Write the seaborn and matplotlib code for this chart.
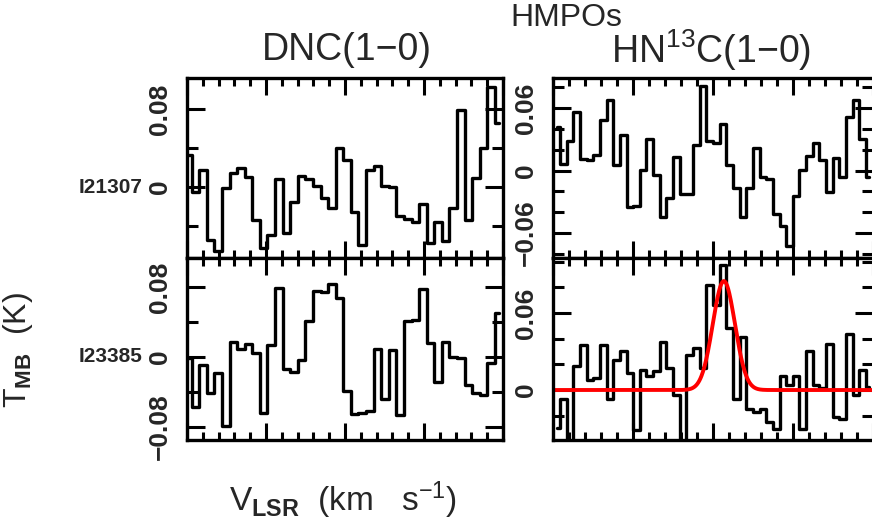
import numpy as np
import pandas as pd
import matplotlib
matplotlib.use("Agg")
import matplotlib.pyplot as plt
import seaborn as sns
from matplotlib.ticker import MultipleLocator, FuncFormatter

sns.set_style("ticks")
plt.rcParams["font.family"] = ["Liberation Sans", "DejaVu Sans"]
plt.rcParams["mathtext.fontset"] = "custom"
plt.rcParams["mathtext.rm"] = "Liberation Sans"
plt.rcParams["mathtext.bf"] = "Liberation Sans:bold"
plt.rcParams["mathtext.it"] = "Liberation Sans:italic"

# ---------------- data ----------------
group_title = "HMPOs"
line_titles = ["DNC(1\u22120)", "HN$^{13}$C(1\u22120)"]
sources = ["I21307", "I23385"]

# channel centres (km/s, relative)
vel_dnc = [-9.95, -9.47, -8.99, -8.51, -8.03, -7.55, -7.07, -6.59, -6.11, -5.63,
           -5.15, -4.67, -4.19, -3.71, -3.23, -2.75, -2.27, -1.79, -1.31, -0.83,
           -0.35, 0.13, 0.61, 1.09, 1.57, 2.05, 2.53, 3.01, 3.49, 3.97,
           4.45, 4.93, 5.41, 5.89, 6.37, 6.85, 7.33, 7.81, 8.29, 8.77,
           9.25, 9.73]
vel_hn13c = [-9.77, -9.35, -8.94, -8.52, -8.11, -7.69, -7.28, -6.86, -6.44, -6.03,
             -5.61, -5.20, -4.78, -4.37, -3.95, -3.53, -3.12, -2.70, -2.29, -1.87,
             -1.46, -1.04, -0.62, -0.21, 0.21, 0.62, 1.04, 1.46, 1.87, 2.29,
             2.70, 3.12, 3.53, 3.95, 4.37, 4.78, 5.20, 5.61, 6.03, 6.44,
             6.86, 7.28, 7.69, 8.11, 8.52, 8.94, 9.35, 9.77]

dnc_i21307 = [0.0328, -0.0048, 0.0174, -0.0544, -0.0663, -0.0014, 0.0140, 0.0192, 0.0106, -0.0339,
              -0.0629, -0.0492, 0.0082, -0.0475, -0.0150, 0.0116, 0.0079, 0.0010, -0.0116, -0.0219,
              0.0397, 0.0277, -0.0253, -0.0595, 0.0174, 0.0219, 0.0010, 0.0003, -0.0294, -0.0332,
              -0.0356, -0.0174, -0.0571, -0.0356, -0.0551, -0.0219, 0.0790, -0.0339, 0.0089, 0.0397,
              0.1030, 0.0660]
dnc_i23385 = [-0.0015, -0.0568, -0.0091, -0.0415, -0.0187, -0.0785, 0.0175, 0.0091, 0.0145, 0.0050,
              -0.0644, 0.0137, 0.0792, -0.0141, -0.0168, -0.0034, 0.0415, 0.0754, 0.0747, 0.0831,
              0.0678, -0.0389, -0.0655, -0.0644, -0.0617, 0.0091, -0.0480, 0.0080, -0.0663, 0.0415,
              0.0427, 0.0777, 0.0156, -0.0282, 0.0168, 0.0004, -0.0015, -0.0320, -0.0415, -0.0434,
              -0.0072, 0.0499]
hn13c_i21307 = [0.0419, 0.0065, 0.0281, 0.0565, 0.0113, 0.0103, 0.0152, 0.0490, 0.0677, 0.0055,
                0.0339, -0.0348, -0.0339, 0.0006, 0.0300, -0.0039, -0.0442, -0.0265, 0.0129, -0.0226,
                -0.0226, 0.0242, 0.0813, 0.0284, 0.0265, 0.0452, 0.0055, -0.0168, -0.0442, -0.0168,
                0.0216, -0.0058, -0.0081, -0.0419, -0.0532, -0.0726, -0.0242, 0.0006, 0.0145, 0.0265,
                0.0103, -0.0210, 0.0123, -0.0065, 0.0516, 0.0677, 0.0306, -0.0058]
hn13c_i23385 = [-0.0293, -0.0067, -0.0450, 0.0187, 0.0355, 0.0080, 0.0093, 0.0355, -0.0067, 0.0232,
                0.0301, 0.0133, -0.0312, 0.0160, 0.0107, 0.0147, 0.0373, 0.0173, -0.0040, -0.0450,
                0.0272, 0.0325, 0.0173, 0.0821, 0.0667, 0.0973, 0.0480, -0.0067, 0.0413, -0.0147,
                -0.0173, -0.0147, -0.0253, -0.0307, 0.0107, 0.0040, 0.0107, -0.0304, 0.0307, 0.0040,
                0.0016, 0.0360, -0.0213, -0.0224, 0.0440, -0.0040, 0.0160, 0.0027]

# Gaussian fit to HN13C in I23385
fit_amp, fit_v0, fit_fwhm = 0.085, 0.68, 1.63

# ---------------- figure ----------------
W, H = 872, 531
fig = plt.figure(figsize=(W / 100, H / 100), dpi=100)

def rect(x0, y0, x1, y1):
    return [x0 / W, 1 - y1 / H, (x1 - x0) / W, (y1 - y0) / H]

def fmt(v, pos):
    v = round(v, 4)
    if abs(v) < 1e-9:
        return "0"
    return ("%g" % v).replace("-", "\u2212")

panels = [
    (rect(187, 78, 503, 258), vel_dnc, dnc_i21307, (-0.073, 0.112), 0.08, 0.04),
    (rect(553, 78, 873, 258), vel_hn13c, hn13c_i21307, (-0.084, 0.089), 0.06, 0.02),
    (rect(187, 258, 503, 440), vel_dnc, dnc_i23385, (-0.095, 0.113), 0.08, 0.04),
    (rect(553, 258, 873, 440), vel_hn13c, hn13c_i23385, (-0.039, 0.103), 0.06, 0.02),
]

axes = []
for r, v, t, yl, maj, mnr in panels:
    ax = fig.add_axes(r)
    df = pd.DataFrame({"v": v, "T": t})
    sns.lineplot(data=df, x="v", y="T", ax=ax, color="black", linewidth=2.4,
                 drawstyle="steps-mid", estimator=None, sort=False)
    ax.set_xlim(-10, 10)
    ax.set_ylim(*yl)
    ax.xaxis.set_major_locator(MultipleLocator(5))
    ax.xaxis.set_minor_locator(MultipleLocator(1))
    ax.yaxis.set_major_locator(MultipleLocator(maj))
    ax.yaxis.set_minor_locator(MultipleLocator(mnr))
    ax.yaxis.set_major_formatter(FuncFormatter(fmt))
    ax.tick_params(which="both", direction="in", top=True, right=True,
                   bottom=True, left=True, width=2.2, color="black",
                   labelbottom=False)
    ax.tick_params(axis="x", which="major", length=12)
    ax.tick_params(axis="x", which="minor", length=6)
    ax.tick_params(axis="y", which="major", length=13)
    ax.tick_params(axis="y", which="minor", length=8)
    ax.tick_params(axis="y", labelsize=19, pad=11, labelrotation=90)
    for lab in ax.get_yticklabels():
        lab.set_va("center")
        lab.set_fontweight("bold")
    for s in ax.spines.values():
        s.set_linewidth(2.4)
        s.set_color("black")
    ax.set_xlabel("")
    ax.set_ylabel("")
    axes.append(ax)

# Gaussian fit (red)
ax_fit = axes[3]
v_fit = np.linspace(-10, 10, 600)
t_fit = fit_amp * np.exp(-4 * np.log(2) * (v_fit - fit_v0) ** 2 / fit_fwhm ** 2)
sns.lineplot(x=v_fit, y=t_fit, ax=ax_fit, color="red", linewidth=2.8,
             estimator=None, sort=False)
ax_fit.set_xlabel("")
ax_fit.set_ylabel("")

# texts
fig.text(566 / W, 1 - 18 / H, group_title, ha="center", va="center", fontsize=23)
fig.text(347 / W, 1 - 50 / H, line_titles[0], ha="center", va="center", fontsize=27)
fig.text(711 / W, 1 - 50 / H, line_titles[1], ha="center", va="center", fontsize=27)
fig.text(143 / W, 1 - 188 / H, sources[0], ha="right", va="center",
         fontsize=15, fontweight="bold")
fig.text(143 / W, 1 - 356 / H, sources[1], ha="right", va="center",
         fontsize=15, fontweight="bold")
fig.text(18 / W, 1 - 350 / H, "T$_{\\mathbf{MB}}$  (K)", ha="center", va="center",
         rotation=90, fontsize=23)
fig.text(343 / W, 1 - 500 / H, "V$_{\\mathbf{LSR}}$  (km   s$^{-1}$)", ha="center",
         va="center", fontsize=24)

fig.savefig("out.png", dpi=100)
